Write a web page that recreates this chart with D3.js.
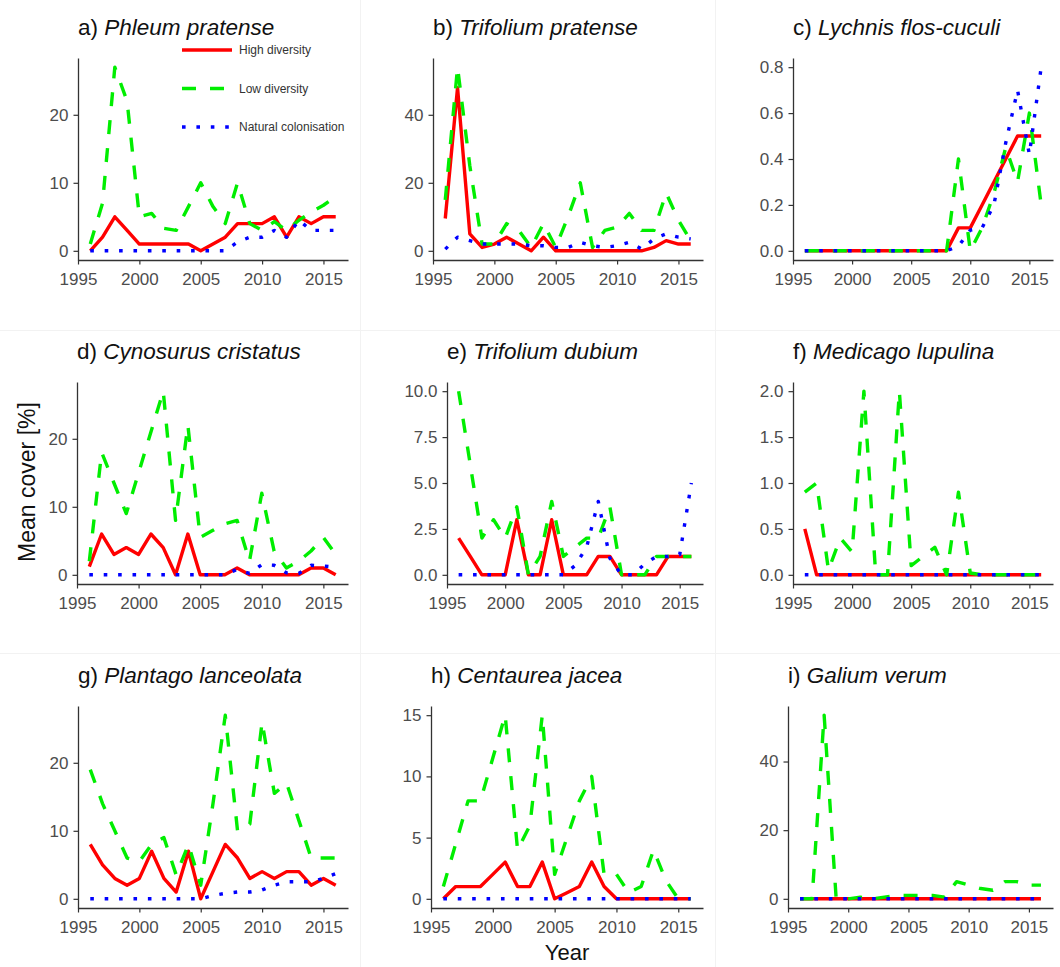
<!DOCTYPE html>
<html>
<head>
<meta charset="utf-8">
<script src="https://cdn.jsdelivr.net/npm/d3@7/dist/d3.min.js"></script>
<style>
  body { margin: 0; background: #ffffff; }
  svg { display: block; font-family: "Liberation Sans", Arial, sans-serif; }
</style>
</head>
<body>
<svg id="chart" width="1060" height="967"></svg>
<script>
// Survey years
const years = [1996, 1997, 1998, 1999, 2000, 2001, 2002, 2003, 2004, 2005, 2006,
               2007, 2008, 2009, 2010, 2011, 2012, 2013, 2014, 2015, 2016];
const xTicks = [1995, 2000, 2005, 2010, 2015];

// Mean cover [%] per treatment: high diversity, low diversity, natural colonisation
const phleumHigh    = [0, 2, 5, 3, 1, 1, 1, 1, 1, 0, 1, 2, 4, 4, 4, 5, 2, 5, 4, 5, 5];
const phleumLow     = [1, 7, 27, 22, 5, 5.5, 3.3, 3, 6.5, 10, 6.5, 4, 10, 4, 3, 4.3, 3, 4.5, 5.7, 6.7, 8];
const phleumNatural = [0, 0, 0, 0, 0, 0, 0, 0, 0, 0, 0, 0, 1.3, 2, 2, 3, 2, 4.5, 3, 3, 3];

const trifPratHigh    = [9.5, 48, 5, 1, 2, 4, 2, 0, 4, 0, 0, 0, 0, 0, 0, 0, 0, 1, 3, 2, 2];
const trifPratLow     = [15, 54, 25, 2, 2, 8, 6, 1, 8, 1, 10, 20, 1, 6, 7, 11, 6, 6, 17, 9, 3];
const trifPratNatural = [0.5, 4, 3, 2, 2, 2, 2, 1.5, 1.5, 1, 1, 2.5, 1.5, 1, 1.5, 2.5, 0.5, 3.5, 5, 4, 3.5];

const lychnisHigh    = [0, 0, 0, 0, 0, 0, 0, 0, 0, 0, 0, 0, 0, 0.1, 0.1, 0.2, 0.3, 0.4, 0.5, 0.5, 0.5];
const lychnisLow     = [0, 0, 0, 0, 0, 0, 0, 0, 0, 0, 0, 0, 0, 0.4, 0, 0.1, 0.25, 0.45, 0.3, 0.6, 0.2];
const lychnisNatural = [0, 0, 0, 0, 0, 0, 0, 0, 0, 0, 0, 0, 0, 0.02, 0.09, 0.1, 0.2, 0.47, 0.7, 0.42, 0.8];

const cynosurusHigh    = [1.2, 6, 3, 4, 3, 6, 4, 0, 6, 0, 0, 0, 1, 0, 0, 0, 0, 0, 1, 1, 0];
const cynosurusLow     = [2, 18, 13.5, 9, 15, 21, 27, 8, 22, 5.5, 6.5, 7.5, 8, 2, 12, 3.5, 1, 2, 3.5, 5.5, 3];
const cynosurusNatural = [0, 0, 0, 0, 0, 0, 0, 0, 0, 0, 0, 0, 0.8, 0.2, 1.5, 1.4, 0.3, 0.2, 1.4, 1.3, 1.1];

const trifDubHigh    = [2, 1, 0, 0, 0, 3, 0, 0, 3, 0, 0, 0, 1, 1, 0, 0, 0, 0, 1, 1, 1];
const trifDubLow     = [10, 6, 2, 3, 2, 3.7, 0, 1, 4, 1, 1.5, 2, 2, 3.7, 0, 0, 0, 1, 1, 1, 1];
const trifDubNatural = [0, 0, 0, 0, 0, 0, 0, 0, 0, 0, 0.5, 1.5, 4, 0.9, 0, 0, 0.6, 1, 1, 1.1, 5];

const medicagoHigh    = [0.5, 0, 0, 0, 0, 0, 0, 0, 0, 0, 0, 0, 0, 0, 0, 0, 0, 0, 0, 0, 0];
const medicagoLow     = [0.9, 1.0, 0.05, 0.4, 0.25, 2.0, 0, 0, 2.0, 0.1, 0.2, 0.3, 0, 0.9, 0.02, 0, 0, 0, 0, 0, 0];
const medicagoNatural = [0, 0, 0, 0, 0, 0, 0, 0, 0, 0, 0, 0, 0, 0, 0, 0, 0, 0, 0, 0, 0];

const plantagoHigh    = [8, 5, 3, 2, 3, 7, 3, 1, 7, 0, 4, 8, 6, 3, 4, 3, 4, 4, 2, 3, 2];
const plantagoLow     = [19, 14, 10, 6, 5.5, 8, 9, 3.5, 8, 2, 14, 27, 10, 11, 26, 15.5, 17, 11.5, 6, 6, 6];
const plantagoNatural = [0, 0, 0, 0, 0, 0, 0, 0, 0, 0, 0.5, 0.8, 1, 1, 1.3, 2, 2.5, 2.5, 2.5, 3, 3.7];

const centaureaHigh    = [0, 1, 1, 1, 2, 3, 1, 1, 3, 0, 0.5, 1, 3, 1, 0, 0, 0, 0, 0, 0, 0];
const centaureaLow     = [1, 4.5, 8, 8, 11.5, 15, 4, 6, 15, 2, 5, 8, 10, 2, 2, 0.5, 1, 4, 1.5, 0, 0];
const centaureaNatural = [0, 0, 0, 0, 0, 0, 0, 0, 0, 0, 0, 0, 0, 0, 0, 0, 0, 0, 0, 0, 0];

const galiumHigh    = [0, 0, 0, 0, 0, 0, 0, 0, 0, 0, 0, 0, 0, 0, 0, 0, 0, 0, 0, 0, 0];
const galiumLow     = [0, 0, 53.5, 0, 0, 0.5, 0, 0.5, 1, 1, 1, 1, 0.5, 5, 4, 3, 2.5, 5, 5, 4, 4];
const galiumNatural = [0, 0, 0, 0, 0, 0, 0, 0, 0, 0, 0, 0, 0, 0, 0, 0, 0, 0, 0, 0, 0];

// Y tick values for each panel
const ticksA = [0, 10, 20];
const ticksB = [0, 20, 40];
const ticksC = [0, 0.2, 0.4, 0.6, 0.8];
const ticksD = [0, 10, 20];
const ticksE = [0, 2.5, 5, 7.5, 10];
const ticksF = [0, 0.5, 1, 1.5, 2];
const ticksG = [0, 10, 20];
const ticksH = [0, 5, 10, 15];
const ticksI = [0, 20, 40];

const seriesNames = ["High diversity", "Low diversity", "Natural colonisation"];

// Line styles per treatment
const styles = [
  { color: "#ff0000", dash: null },
  { color: "#00ee00", dash: "14 14" },
  { color: "#0000ff", dash: "3.6 10.8" }
];
const lineWidth = 3.4;

const panels = [
  { tag: "a)", name: "Phleum pratense",    data: [phleumHigh, phleumLow, phleumNatural],          ticks: ticksA, fmt: "d",   left: 78,  col: 0, row: 0 },
  { tag: "b)", name: "Trifolium pratense", data: [trifPratHigh, trifPratLow, trifPratNatural],    ticks: ticksB, fmt: "d",   left: 433, col: 1, row: 0 },
  { tag: "c)", name: "Lychnis flos-cuculi", data: [lychnisHigh, lychnisLow, lychnisNatural],      ticks: ticksC, fmt: ".1f", left: 793, col: 2, row: 0 },
  { tag: "d)", name: "Cynosurus cristatus", data: [cynosurusHigh, cynosurusLow, cynosurusNatural], ticks: ticksD, fmt: "d",  left: 77,  col: 0, row: 1 },
  { tag: "e)", name: "Trifolium dubium",   data: [trifDubHigh, trifDubLow, trifDubNatural],       ticks: ticksE, fmt: ".1f", left: 447, col: 1, row: 1 },
  { tag: "f)", name: "Medicago lupulina",  data: [medicagoHigh, medicagoLow, medicagoNatural],    ticks: ticksF, fmt: ".1f", left: 793, col: 2, row: 1 },
  { tag: "g)", name: "Plantago lanceolata", data: [plantagoHigh, plantagoLow, plantagoNatural],   ticks: ticksG, fmt: "d",   left: 78,  col: 0, row: 2 },
  { tag: "h)", name: "Centaurea jacea",    data: [centaureaHigh, centaureaLow, centaureaNatural], ticks: ticksH, fmt: "d",   left: 431, col: 1, row: 2 },
  { tag: "i)", name: "Galium verum",       data: [galiumHigh, galiumLow, galiumNatural],          ticks: ticksI, fmt: "d",   left: 788, col: 2, row: 2 }
];

const colRight = [348, 703, 1053];
const rowTop = [58, 382, 706];
const panelHeight = 202;

const svg = d3.select("#chart");

// faint frame lines between the sub-figures
const frame = svg.append("g").attr("stroke", "#f2f2f2").attr("stroke-width", 1);
[360.5, 715.5].forEach(x => frame.append("line").attr("x1", x).attr("x2", x).attr("y1", 0).attr("y2", 967));
[330.5, 653.5].forEach(y => frame.append("line").attr("x1", 0).attr("x2", 1060).attr("y1", y).attr("y2", y));

panels.forEach(p => {
  const top = rowTop[p.row];
  const bottom = top + panelHeight;
  const left = p.left;
  const right = colRight[p.col];

  const maxV = d3.max(p.data, s => d3.max(s));
  const pad = maxV * 0.05;

  const x = d3.scaleLinear().domain([1995, 2017]).range([left, right]);
  const y = d3.scaleLinear().domain([-pad, maxV + pad]).range([bottom, top]);

  const g = svg.append("g");

  // title
  const title = g.append("text")
    .attr("x", left)
    .attr("y", top - 23)
    .attr("font-size", 22.5)
    .attr("fill", "#111");
  title.append("tspan").text(p.tag + " ");
  title.append("tspan").attr("font-style", "italic").text(p.name);

  // series
  const line = d3.line()
    .x((d, i) => x(years[i]))
    .y(d => y(d));

  p.data.forEach((s, k) => {
    g.append("path")
      .datum(s)
      .attr("d", line)
      .attr("fill", "none")
      .attr("stroke", styles[k].color)
      .attr("stroke-width", lineWidth)
      .attr("stroke-linejoin", "round")
      .attr("stroke-linecap", "butt")
      .attr("stroke-dasharray", styles[k].dash);
  });

  // axes
  const fmt = d3.format(p.fmt);
  const xAxis = g.append("g")
    .attr("transform", `translate(0,${bottom})`)
    .call(d3.axisBottom(x).tickValues(xTicks).tickFormat(d3.format("d")).tickSize(4.5).tickPadding(5).tickSizeOuter(0));
  const yAxis = g.append("g")
    .attr("transform", `translate(${left},0)`)
    .call(d3.axisLeft(y).tickValues(p.ticks).tickFormat(fmt).tickSize(4.5).tickPadding(5).tickSizeOuter(0));

  [xAxis, yAxis].forEach(a => {
    a.select(".domain").attr("stroke", "#333").attr("stroke-width", 1.3);
    a.selectAll(".tick line").attr("stroke", "#333").attr("stroke-width", 1.2);
    a.selectAll(".tick text")
      .attr("fill", "#4d4d4d")
      .attr("font-size", 17)
      .attr("font-family", "Liberation Sans, Arial, sans-serif");
  });
  xAxis.selectAll(".tick text").attr("dy", "0.9em");

  // legend inside the first panel
  if (p.tag === "a)") {
    const lg = g.append("g");
    const ly = [50, 88.5, 127];
    seriesNames.forEach((name, k) => {
      lg.append("line")
        .attr("x1", 182).attr("x2", 232)
        .attr("y1", ly[k]).attr("y2", ly[k])
        .attr("stroke", styles[k].color)
        .attr("stroke-width", lineWidth)
        .attr("stroke-dasharray", styles[k].dash);
      lg.append("text")
        .attr("x", 239).attr("y", ly[k])
        .attr("dy", "0.35em")
        .attr("font-size", 12)
        .attr("fill", "#333")
        .text(name);
    });
  }
});

// shared axis titles
svg.append("text")
  .attr("transform", "translate(35,482) rotate(-90)")
  .attr("text-anchor", "middle")
  .attr("font-size", 23)
  .attr("fill", "#111")
  .text("Mean cover [%]");

svg.append("text")
  .attr("x", 567)
  .attr("y", 960)
  .attr("text-anchor", "middle")
  .attr("font-size", 22)
  .attr("fill", "#111")
  .text("Year");
</script>
</body>
</html>
